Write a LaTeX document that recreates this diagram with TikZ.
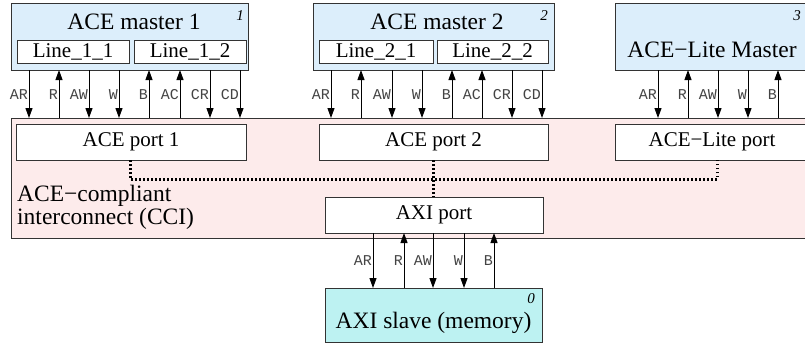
\documentclass[tikz,border=0pt]{standalone}
\usepackage{fontspec}
\setmainfont{Liberation Serif}
\setmonofont{Liberation Mono}
\usetikzlibrary{arrows.meta}
\definecolor{mblue}{HTML}{DCEEFB}
\definecolor{cpink}{HTML}{FDEBEB}
\definecolor{scyan}{HTML}{BDF2F2}
\definecolor{edge}{HTML}{333333}
\definecolor{lbl}{HTML}{444444}
\tikzset{
  box/.style={draw=edge, line width=1bp, anchor=north west, inner sep=0pt, outer sep=0pt},
  title/.style={font=\fontsize{23.5bp}{26bp}\selectfont, inner sep=0pt},
  ptext/.style={font=\fontsize{21bp}{24bp}\selectfont, inner sep=0pt},
  num/.style={font=\fontsize{15bp}{16bp}\selectfont\itshape, inner sep=0pt},
  sig/.style={font=\ttfamily\fontsize{15bp}{16bp}\selectfont, text=lbl, anchor=base east, inner sep=0pt},
  dn/.style={-{Triangle[length=10bp,width=7bp]}, line width=1bp},
  up/.style={{Triangle[length=10bp,width=7bp]}-, line width=1bp},
  bus/.style={line width=3bp, dash pattern=on 1.5bp off 2.5bp},
}
\begin{document}
\begin{tikzpicture}[x=1bp,y=-1bp]
\useasboundingbox (0,0) rectangle (805,346);
\clip (0,0) rectangle (805,346);
\fill[white] (0,0) rectangle (805,346);
% interconnect
\node[box, fill=cpink, minimum width=800bp, minimum height=120bp] (cci) at (11,118) {};
\node[ptext, font=\fontsize{23.5bp}{23bp}\selectfont, align=left, anchor=north west] (ccil) at (17,185) {ACE−compliant\\interconnect (CCI)};
% masters
\node[box, fill=mblue, minimum width=237bp, minimum height=67bp] (m1) at (11,3) {};
\node[title] (m1t) at (134,22) {ACE master 1};
\node[num] (m1n) at (240,16) {1};
\node[box, fill=white, minimum width=112bp, minimum height=23bp] (l11) at (17,40) {};
\node[ptext] at (l11.center) {Line\_1\_1};
\node[box, fill=white, minimum width=112bp, minimum height=23bp] (l12) at (134,40) {};
\node[ptext] at (l12.center) {Line\_1\_2};
\node[box, fill=mblue, minimum width=241bp, minimum height=67bp] (m2) at (313,3) {};
\node[title] (m2t) at (437,22) {ACE master 2};
\node[num] (m2n) at (544,16) {2};
\node[box, fill=white, minimum width=114bp, minimum height=23bp] (l21) at (319,40) {};
\node[ptext] at (l21.center) {Line\_2\_1};
\node[box, fill=white, minimum width=111bp, minimum height=23bp] (l22) at (437,40) {};
\node[ptext] at (l22.center) {Line\_2\_2};
\node[box, fill=mblue, minimum width=200bp, minimum height=67bp] (m3) at (615,3) {};
\node[title] (m3t) at (712,50) {ACE−Lite Master};
\node[num] (m3n) at (797,16) {3};
% ports
\node[box, fill=white, minimum width=230bp, minimum height=36bp] (p1) at (16,124) {};
\node[ptext] at (p1.center) {ACE port 1};
\node[box, fill=white, minimum width=229bp, minimum height=36bp] (p2) at (319,124) {};
\node[ptext] at (p2.center) {ACE port 2};
\node[box, fill=white, minimum width=200bp, minimum height=36bp] (p3) at (615,124) {};
\node[ptext] at (712,142) {ACE−Lite port};
\node[box, fill=white, minimum width=218bp, minimum height=36bp] (ap) at (325,197) {};
\node[ptext] at (ap.center) {AXI port};
% slave
\node[box, fill=scyan, minimum width=217bp, minimum height=54bp] (sl) at (325,288) {};
\node[title] (slt) at (433.5,323) {AXI slave (memory)};
\node[num] (sln) at (531,299) {0};
% bus
\coordinate (b1) at (130,179);
\coordinate (b3) at (717,179);
\draw[bus] (p1.south -| b1) -- (b1) -- (b3) -- (p3.south -| b3);
\draw[bus] (p2.south -| 433,0) -- (ap.north -| 433,0);
% signals
\foreach \x/\d/\t in {29/dn/AR,59/up/R,89/dn/AW,119/dn/W,149/up/B,180/up/AC,210/dn/CR,240/dn/CD}{
  \draw[\d] (m1.south -| \x,0) -- (cci.north -| \x,0);
  \node[sig] at (\x-1,99) {\t};
}
\foreach \x/\d/\t in {331/dn/AR,361/up/R,392/dn/AW,422/dn/W,452/up/B,482/up/AC,512/dn/CR,542/dn/CD}{
  \draw[\d] (m2.south -| \x,0) -- (cci.north -| \x,0);
  \node[sig] at (\x-1,99) {\t};
}
\foreach \x/\d/\t in {658/dn/AR,688/up/R,718/dn/AW,748/dn/W,778/up/B}{
  \draw[\d] (m3.south -| \x,0) -- (cci.north -| \x,0);
  \node[sig] at (\x-1,99) {\t};
}
\foreach \x/\d/\t in {373/dn/AR,404/up/R,433/dn/AW,464/dn/W,494/up/B}{
  \draw[\d] (ap.south -| \x,0) -- (sl.north -| \x,0);
  \node[sig] at (\x-1,265) {\t};
}
\end{tikzpicture}
\end{document}
